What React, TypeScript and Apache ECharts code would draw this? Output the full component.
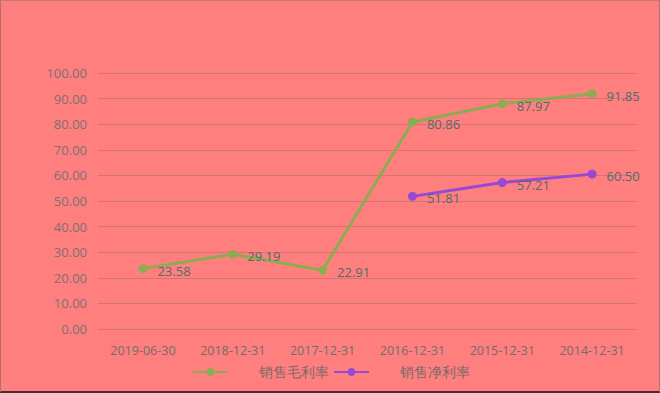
import React, { useEffect, useRef } from "react";
import * as echarts from "echarts";

const categories = ["2019-06-30", "2018-12-31", "2017-12-31", "2016-12-31", "2015-12-31", "2014-12-31"];
const grossMargin = [23.58, 29.19, 22.91, 80.86, 87.97, 91.85];
const netMargin: (number | null)[] = [null, null, null, 51.81, 57.21, 60.5];
const seriesNames = ["销售毛利率", "销售净利率"];

export default function App() {
  const ref = useRef<HTMLDivElement>(null);
  useEffect(() => {
    document.body.style.margin = "0";
    const chart = echarts.init(ref.current!, null, { renderer: "svg" });
    const labelCfg = {
      show: true,
      position: "right" as const,
      distance: 10,
      offset: [0, 2],
      color: "#4b6e6e",
      fontSize: 13,
      fontFamily: "'Open Sans', sans-serif",
      formatter: (p: any) => (p.value == null ? "" : Number(p.value).toFixed(2)),
    };
    chart.setOption({
      animation: false,
      backgroundColor: "#ff7f7f",
      grid: { left: 97, right: 22, top: 72, bottom: 62 },
      xAxis: {
        type: "category",
        data: categories,
        axisLine: { show: false },
        axisTick: { show: false },
        axisLabel: { color: "#6e6e6e", fontSize: 12.5, margin: 15, fontFamily: "'Open Sans', sans-serif" },
      },
      yAxis: {
        type: "value",
        min: 0,
        max: 100,
        interval: 10,
        axisLine: { show: false },
        axisTick: { show: false },
        axisLabel: {
          color: "#7a7272",
          fontSize: 13,
          margin: 11,
          fontFamily: "'Open Sans', sans-serif",
          formatter: (v: number) => v.toFixed(2),
        },
        splitLine: { lineStyle: { color: "#d27474", width: 1 } },
      },
      legend: {
        left: 186,
        top: 359,
        itemWidth: 35,
        itemHeight: 10,
        itemGap: 4,
        textStyle: {
          color: "#7a6a6a",
          fontSize: 14,
          fontFamily: "serif",
          padding: [0, 0, 0, 26],
        },
        data: seriesNames,
      },
      series: [
        {
          name: seriesNames[0],
          type: "line",
          data: grossMargin,
          symbol: "circle",
          symbolSize: 9,
          color: "#8dab50",
          lineStyle: { width: 3, color: "#8dab50" },
          itemStyle: { color: "#8dab50" },
          label: labelCfg,
        },
        {
          name: seriesNames[1],
          type: "line",
          data: netMargin,
          symbol: "circle",
          symbolSize: 9,
          color: "#9648d6",
          lineStyle: { width: 3, color: "#9648d6" },
          itemStyle: { color: "#9648d6" },
          label: labelCfg,
        },
      ],
    });
    return () => chart.dispose();
  }, []);
  return (
    <div
      style={{
        width: 660,
        height: 393,
        boxSizing: "border-box",
        borderLeft: "1px solid #b07070",
        borderRight: "1px solid #b07070",
        borderTop: "1px solid #c07878",
        borderBottom: "2px solid #4a2a2a",
        background: "#ff7f7f",
      }}
    >
      <div ref={ref} style={{ width: 658, height: 390 }} />
    </div>
  );
}
